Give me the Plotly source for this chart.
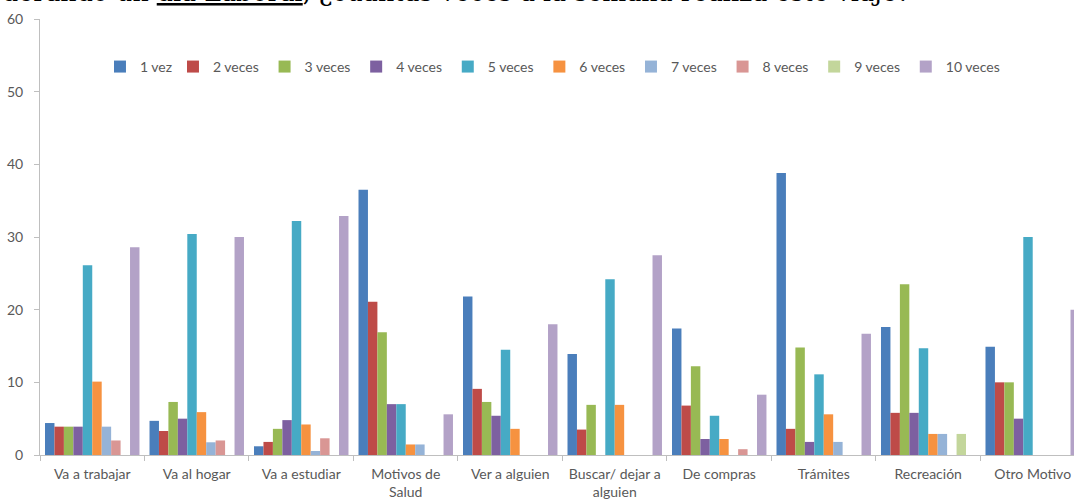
import plotly.graph_objects as go

categories = ["Va a trabajar", "Va al hogar", "Va a estudiar", "Motivos de Salud",
              "Ver a alguien", "Buscar/ dejar a alguien", "De compras", "Trámites",
              "Recreación", "Otro Motivo"]
tick_labels = ["Va a trabajar", "Va al hogar", "Va a estudiar", "Motivos de<br>Salud",
               "Ver a alguien", "Buscar/ dejar a<br>alguien", "De compras", "Trámites",
               "Recreación", "Otro Motivo"]
series_names = ["1 vez", "2 veces", "3 veces", "4 veces", "5 veces",
                "6 veces", "7 veces", "8 veces", "9 veces", "10 veces"]

v1 = [4.4, 4.7, 1.2, 36.5, 21.8, 13.9, 17.4, 38.8, 17.6, 14.9]
v2 = [3.9, 3.3, 1.8, 21.1, 9.1, 3.5, 6.8, 3.6, 5.8, 10.0]
v3 = [3.9, 7.3, 3.6, 16.9, 7.3, 6.9, 12.2, 14.8, 23.5, 10.0]
v4 = [3.9, 5.0, 4.8, 7.0, 5.4, None, 2.2, 1.8, 5.8, 5.0]
v5 = [26.1, 30.4, 32.2, 7.0, 14.5, 24.2, 5.4, 11.1, 14.7, 30.0]
v6 = [10.1, 5.9, 4.2, 1.45, 3.6, 6.9, 2.2, 5.6, 2.9, None]
v7 = [3.9, 1.75, 0.55, 1.45, None, None, None, 1.8, 2.9, None]
v8 = [2.0, 2.0, 2.3, None, None, None, 0.8, None, None, None]
v9 = [None, None, None, None, None, None, None, None, 2.9, None]
v10 = [28.6, 30.0, 32.9, 5.6, 18.0, 27.5, 8.3, 16.7, None, 20.0]
series_values = [v1, v2, v3, v4, v5, v6, v7, v8, v9, v10]

colors = ["#4A7EBB", "#BE4B48", "#98B954", "#7D60A0", "#46AAC5",
          "#F69240", "#95B3D7", "#D99694", "#C3D69B", "#B3A2C7"]
legend_widths = [28, 46.6, 46.6, 46.6, 46.6, 46.6, 46.6, 46.6, 46.6, 70]

fig = go.Figure()
for name, vals, col, lw in zip(series_names, series_values, colors, legend_widths):
    fig.add_trace(go.Bar(name=name, x=categories, y=vals, marker_color=col,
                         marker_line_width=0, legendwidth=lw))

fig.update_layout(
    width=1074, height=500,
    margin=dict(l=40, r=0, t=19, b=45),
    paper_bgcolor="white", plot_bgcolor="white",
    barmode="group", bargap=0.096, bargroupgap=0,
    font=dict(family="Lato", size=14, color="#595959"),
    legend=dict(orientation="h", x=0.058, xanchor="left", y=0.89, yanchor="middle",
                font=dict(family="Lato", size=14, color="#595959"),
                bgcolor="rgba(0,0,0,0)", itemwidth=30, traceorder="normal"),
    showlegend=True,
    annotations=[dict(
        text="derando un <u>día Laboral</u>, ¿cuántas veces a la semana realiza este viaje?",
        xref="paper", yref="paper", x=-0.039, xanchor="left", y=1.06, yanchor="middle",
        showarrow=False, font=dict(family="DejaVu Serif", size=25.3, color="black"))],
)
fig.update_xaxes(
    range=[-0.5, 9.395], tickson="boundaries", ticks="outside", ticklen=5,
    tickcolor="#BFBFBF", showline=True, linecolor="#BFBFBF", linewidth=1,
    showgrid=False, tickmode="array", tickvals=categories, ticktext=tick_labels,
    tickfont=dict(family="Lato", size=14, color="#595959"), automargin=False,
    ticklabelstandoff=6,
)
fig.update_yaxes(
    range=[0, 60], dtick=10, ticks="outside", ticklen=5, tickcolor="#BFBFBF",
    showline=True, linecolor="#BFBFBF", linewidth=1, showgrid=False, zeroline=False,
    tickfont=dict(family="Lato", size=14, color="#595959"), automargin=False,
    ticklabelstandoff=8,
)
fig.write_html("out.html", config={"displayModeBar": False},
               post_script="document.body.style.margin='0';")
